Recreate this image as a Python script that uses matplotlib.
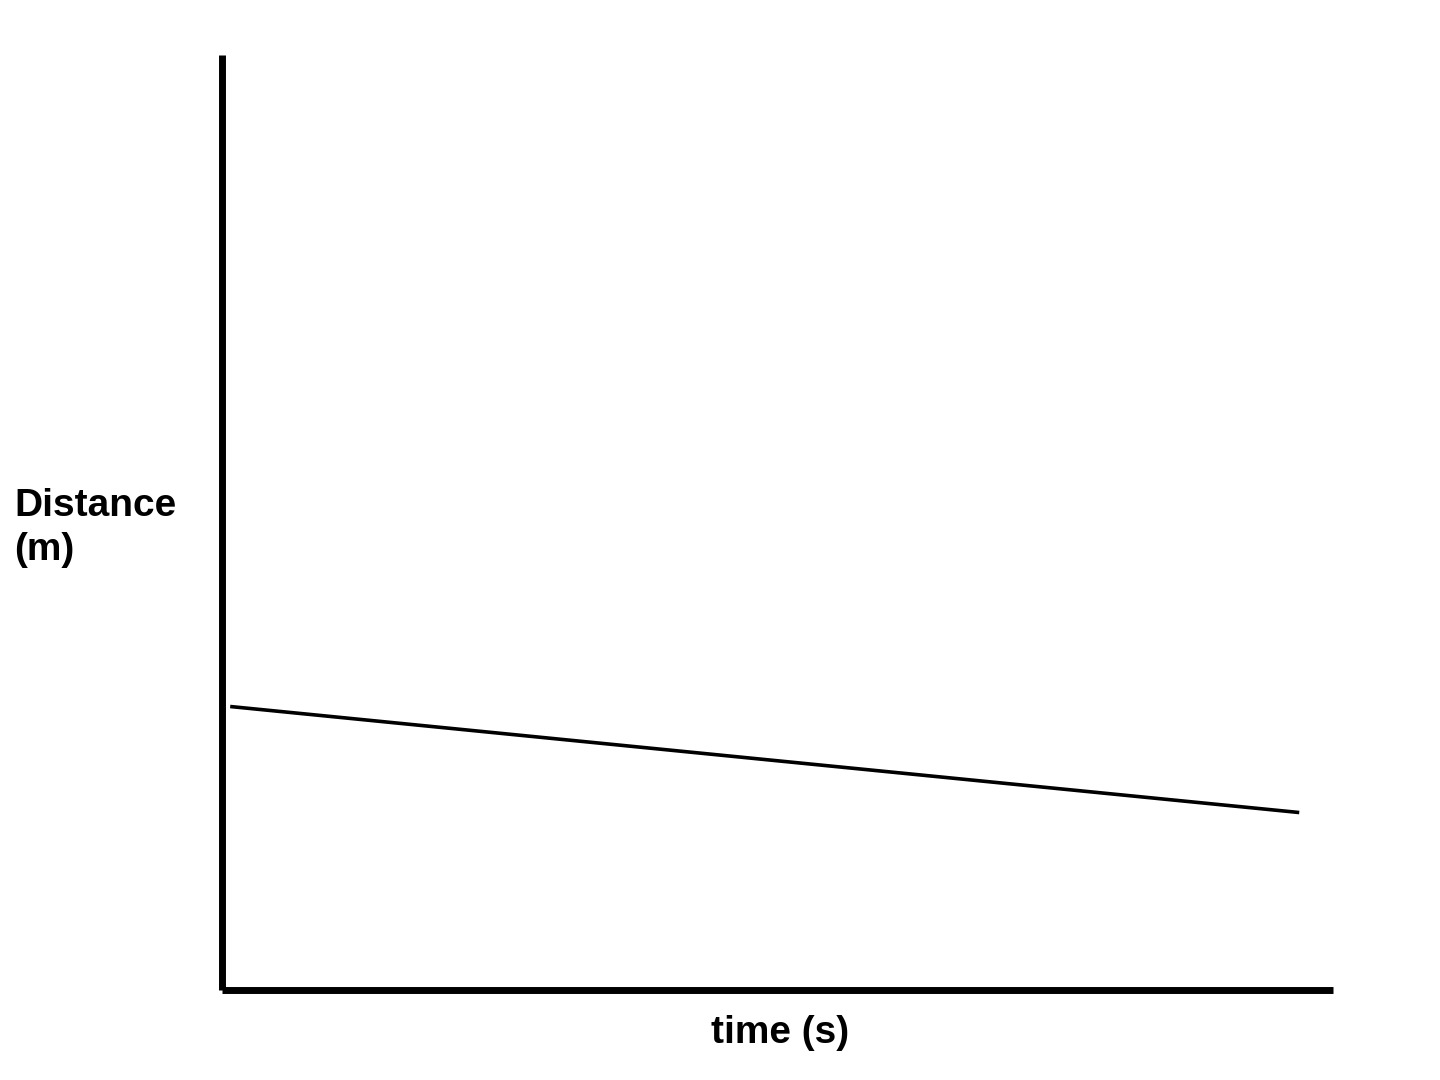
import matplotlib
matplotlib.use("Agg")
import matplotlib.pyplot as plt

time = [0.09, 9.68]
distance = [3.03, 1.90]
xlabel = "time (s)"
ylabel = "Distance\n(m)"

fig = plt.figure(figsize=(14.4, 10.8), dpi=100)
ax = fig.add_axes([222/1440, 1-990/1080, (1333-222)/1440, (990-55)/1080])
ax.plot(time, distance, color="black", lw=2.6)
ax.set_xlim(0, 10)
ax.set_ylim(0, 10)
for s in ["top", "right"]:
    ax.spines[s].set_visible(False)
for s in ["left", "bottom"]:
    ax.spines[s].set_linewidth(5)
    ax.spines[s].set_capstyle("butt")
ax.set_xticks([]); ax.set_yticks([])
fig.text(780/1440, 1-1033/1080, xlabel, ha="center", va="center",
         fontsize=28, fontweight="bold", family="Liberation Sans")
fig.text(14/1440, 1-528/1080, ylabel, ha="left", va="center",
         fontsize=28, fontweight="bold", family="Liberation Sans", linespacing=1.3)
fig.savefig("out.png", dpi=100, facecolor="white")
